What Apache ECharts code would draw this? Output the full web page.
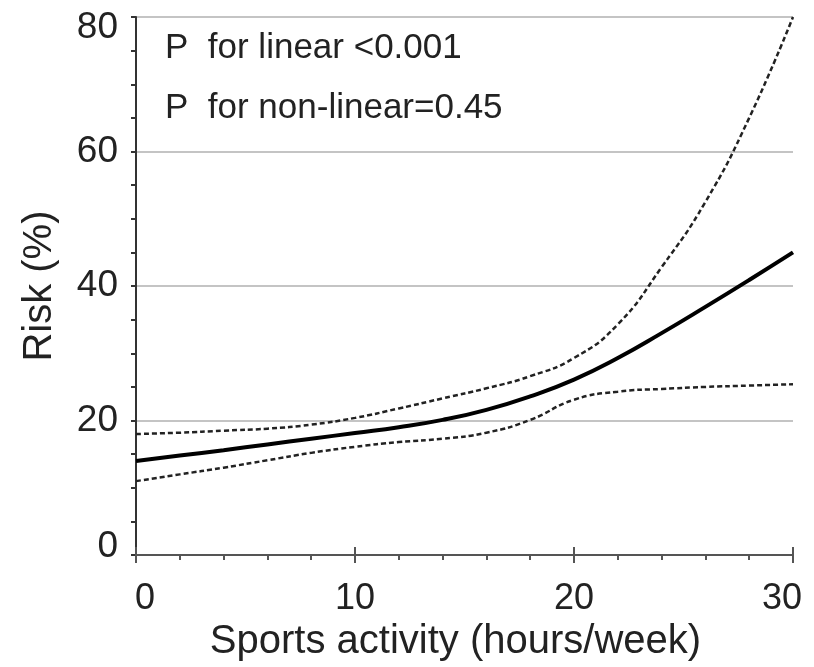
<!DOCTYPE html>
<html>
<head>
<meta charset="utf-8">
<script src="https://cdn.jsdelivr.net/npm/echarts@6/dist/echarts.min.js"></script>
<style>
  html, body { margin: 0; padding: 0; background: #fff; }
  #main { width: 814px; height: 667px; }
</style>
</head>
<body>
<div id="main"></div>
<script>
// hours/week
var xVals = [0, 2, 4, 6, 8, 10, 12, 14, 16, 18, 20, 22, 24, 26, 28, 30];
// risk (%) estimate and 95% CI
var riskVals  = [14.0, 14.8, 15.6, 16.45, 17.3, 18.15, 19.0, 20.1, 21.6, 23.6, 26.1, 29.3, 33.0, 36.9, 40.9, 45.0];
var upperVals = [18.0, 18.2, 18.5, 18.8, 19.4, 20.4, 21.8, 23.3, 24.8, 26.6, 29.3, 34.3, 42.8, 52.5, 65.0, 80.0];
var lowerVals = [11.0, 12.0, 13.0, 14.1, 15.2, 16.1, 16.8, 17.3, 18.2, 20.1, 23.1, 24.3, 24.7, 25.0, 25.2, 25.4];
var yTicks = [0, 20, 40, 60, 80];
var xTicks = [0, 10, 20, 30];
var notes = ['P  for linear <0.001', 'P  for non-linear=0.45'];

function pairs(ys) {
    var out = [];
    for (var i = 0; i < xVals.length; i++) {
        out.push([xVals[i], ys[i]]);
    }
    return out;
}

var font = '"Liberation Sans", Arial, sans-serif';
var axisColor = '#555';
var dash = { color: '#222', width: 2.5, type: [5, 3] };

var myChart = echarts.init(document.getElementById('main'));
var option = {
    animation: false,
    grid: { left: 136, right: 21, top: 17, bottom: 111 },
    xAxis: [
        {
            type: 'value',
            min: xTicks[0],
            max: xTicks[xTicks.length - 1],
            interval: 10,
            position: 'bottom',
            name: 'Sports activity (hours/week)',
            nameLocation: 'middle',
            nameGap: 62,
            nameTextStyle: { fontSize: 40, color: '#222', fontFamily: font, padding: [0, 18, 0, 0] },
            axisLine: { lineStyle: { color: axisColor, width: 2 } },
            axisTick: { length: 8, lineStyle: { color: axisColor, width: 2 } },
            minorTick: { show: true, splitNumber: 5, length: 5, lineStyle: { color: axisColor, width: 2 } },
            axisLabel: {
                fontSize: 36, color: '#222', fontFamily: font, margin: 26,
                formatter: function (v) {
                    if (v === xTicks[0]) return '{first|' + v + '}';
                    if (v === xTicks[xTicks.length - 1]) return '{last|' + v + '}';
                    return '' + v;
                },
                rich: {
                    first: { fontSize: 36, fontFamily: font, color: '#222', padding: [0, 0, 0, 18] },
                    last: { fontSize: 36, fontFamily: font, color: '#222', padding: [0, 22, 0, 0] }
                }
            },
            splitLine: { show: false }
        },
        { // inner half of the major ticks
            type: 'value',
            min: xTicks[0],
            max: xTicks[xTicks.length - 1],
            interval: 10,
            position: 'bottom',
            axisLine: { show: false },
            axisTick: { inside: true, length: 8, lineStyle: { color: axisColor, width: 2 } },
            axisLabel: { show: false },
            splitLine: { show: false }
        }
    ],
    yAxis: {
        type: 'value',
        min: yTicks[0],
        max: yTicks[yTicks.length - 1],
        interval: 20,
        name: 'Risk (%)',
        nameLocation: 'middle',
        nameGap: 76,
        nameTextStyle: { fontSize: 40, color: '#222', fontFamily: font },
        axisLine: { show: true, lineStyle: { color: '#333', width: 2 } },
        axisTick: { show: true, length: 5, lineStyle: { color: '#333', width: 2 } },
        minorTick: { show: true, splitNumber: 4, length: 5, lineStyle: { color: '#333', width: 2 } },
        axisLabel: {
            fontSize: 37, color: '#222', fontFamily: font, margin: 18,
            formatter: function (v) {
                if (v === yTicks[yTicks.length - 1]) return '{top|' + v + '}';
                if (v === yTicks[0]) return '{bot|' + v + '}';
                return '' + v;
            },
            rich: {
                top: { fontSize: 37, fontFamily: font, color: '#222', padding: [22, 0, 0, 0] },
                bot: { fontSize: 37, fontFamily: font, color: '#222', padding: [0, 0, 16, 0] }
            }
        },
        splitLine: { lineStyle: { color: '#c4c4c4', width: 2 } }
    },
    graphic: [
        { type: 'text', left: 165, top: 31, style: { text: notes[0], fill: '#222', font: '35px ' + font } },
        { type: 'text', left: 165, top: 91, style: { text: notes[1], fill: '#222', font: '35px ' + font } }
    ],
    series: [
        { type: 'line', data: pairs(upperVals), smooth: 0.5, symbol: 'none', lineStyle: dash },
        { type: 'line', data: pairs(lowerVals), smooth: 0.5, symbol: 'none', lineStyle: dash },
        {
            type: 'line', data: pairs(riskVals), smooth: 0.5, symbol: 'none',
            lineStyle: { color: '#000', width: 4 }
        }
    ]
};
myChart.setOption(option);
</script>
</body>
</html>
